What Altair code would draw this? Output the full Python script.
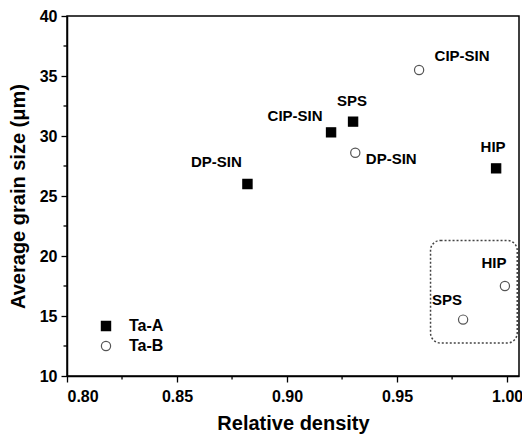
import altair as alt
import pandas as pd

# ---- data ----
series = ["Ta-A", "Ta-B"]
methods_a = ["DP-SIN", "CIP-SIN", "SPS", "HIP"]
density_a = [0.882, 0.920, 0.930, 0.995]
grain_a = [26.0, 30.3, 31.2, 27.3]
methods_b = ["CIP-SIN", "DP-SIN", "SPS", "HIP"]
density_b = [0.960, 0.931, 0.980, 0.999]
grain_b = [35.5, 28.6, 14.7, 17.5]

# label offsets (pixels) relative to each point
label_dx_a = [-31, -36, -1, -3]
label_dy_a = [-22, -16, -21, -21]
label_dx_b = [43, 36, -16, -11]
label_dy_b = [-14, 6, -20, -23]

x_ticks = [0.80, 0.85, 0.90, 0.95, 1.00]
x_minor = [0.825, 0.875, 0.925, 0.975]
y_ticks = [10, 15, 20, 25, 30, 35, 40]
y_minor = [12.5, 17.5, 22.5, 27.5, 32.5, 37.5]

box_x = [0.9652, 1.0046]
box_y = [12.75, 21.3]

FONT = "Liberation Sans"
W, H = 452, 360

pts = pd.DataFrame({
    "x": density_a + density_b,
    "y": grain_a + grain_b,
    "series": [series[0]] * len(density_a) + [series[1]] * len(density_b),
    "method": methods_a + methods_b,
})
pts["idx"] = range(len(pts))
dxs = label_dx_a + label_dx_b
dys = label_dy_a + label_dy_b

xscale = alt.Scale(domain=[0.80, 1.0054], nice=False, zero=False)
yscale = alt.Scale(domain=[10, 40], nice=False, zero=False)

x_axis = alt.Axis(
    values=x_ticks, format=".2f", title="Relative density",
    grid=False, tickSize=6, tickWidth=1.3, tickColor="black",
    domainColor="black", domainWidth=1.5,
    labelFont=FONT, labelFontWeight="bold", labelFontSize=16, labelColor="black",
    labelPadding=6, titleFont=FONT, titleFontWeight="bold", titleFontSize=20,
    titleColor="black", titlePadding=9,
)
y_axis = alt.Axis(
    values=y_ticks, format="d", title="Average grain size (\u03bcm)",
    grid=False, tickSize=6, tickWidth=1.3, tickColor="black",
    domainColor="black", domainWidth=1.5,
    labelFont=FONT, labelFontWeight="bold", labelFontSize=16, labelColor="black",
    labelPadding=4, titleFont=FONT, titleFontWeight="bold", titleFontSize=20,
    titleColor="black", titlePadding=11,
)

def X(field="x"):
    return alt.X(f"{field}:Q", scale=xscale, axis=x_axis)

def Y(field="y"):
    return alt.Y(f"{field}:Q", scale=yscale, axis=y_axis)

LEG = dict(title=None, orient="none", legendX=31, legendY=302)

points = alt.Chart(pts).mark_point(opacity=1, strokeWidth=1.2).encode(
    x=X(), y=Y(),
    shape=alt.Shape("series:N", scale=alt.Scale(domain=series, range=["square", "circle"]),
                    legend=alt.Legend(**LEG)),
    fill=alt.Fill("series:N", scale=alt.Scale(domain=series, range=["black", "white"]),
                  legend=alt.Legend(**LEG)),
    stroke=alt.Stroke("series:N", scale=alt.Scale(domain=series, range=["black", "#555555"]),
                      legend=alt.Legend(**LEG)),
    size=alt.value(85),
)

labels = []
for i in range(len(pts)):
    labels.append(
        alt.Chart(pts).transform_filter(alt.datum.idx == i).mark_text(
            dx=dxs[i], dy=dys[i], font=FONT, fontWeight="bold", fontSize=15,
            color="black", align="center", baseline="middle",
        ).encode(x=X(), y=Y(), text="method:N")
    )

box_df = pd.DataFrame({"x": [box_x[0]], "x2": [box_x[1]], "y": [box_y[0]], "y2": [box_y[1]]})
box = alt.Chart(box_df).mark_rect(
    fill="white", fillOpacity=0, stroke="#444444", strokeWidth=1.5,
    strokeDash=[2, 2], cornerRadius=10,
).encode(x=X(), x2="x2:Q", y=Y(), y2="y2:Q")

xminor_df = pd.DataFrame({"x": x_minor})
xminor = alt.Chart(xminor_df).mark_rule(color="black", strokeWidth=1.3).encode(
    x=X(), y=alt.value(H), y2=alt.value(H + 3.5)
)
yminor_df = pd.DataFrame({"y": y_minor})
yminor = alt.Chart(yminor_df).mark_rule(color="black", strokeWidth=1.3).encode(
    y=Y(), x=alt.value(-3.5), x2=alt.value(0)
)

chart = alt.layer(box, xminor, yminor, points, *labels).properties(
    width=W, height=H,
    autosize=alt.AutoSizeParams(type="none"),
    padding={"left": 59, "top": 8, "right": 3, "bottom": 61},
    background="white",
).configure_view(
    stroke="black", strokeWidth=1.5
).configure_legend(
    labelFont=FONT, labelFontWeight="bold", labelFontSize=16, labelColor="black",
    symbolSize=85, symbolStrokeWidth=1.2, labelOffset=15, rowPadding=4, padding=0,
)

chart.save("out.html", embed_options={"renderer": "svg", "actions": False})
